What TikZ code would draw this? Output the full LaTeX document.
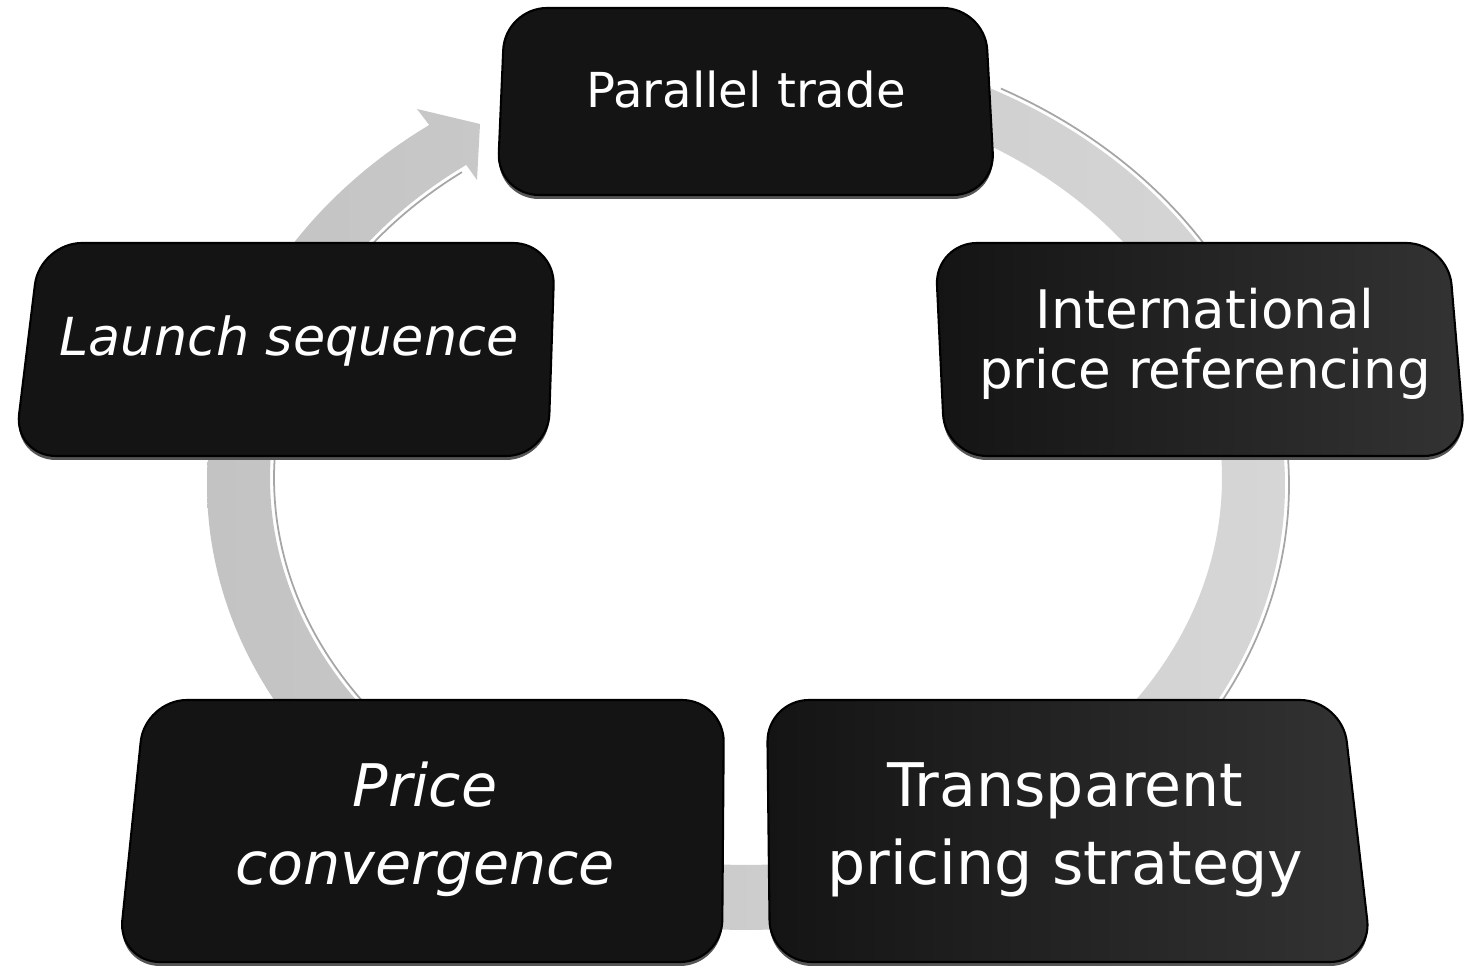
\documentclass[tikz,border=0pt]{standalone}
\usepackage{fontspec}
\setmainfont{DejaVu Sans}
\definecolor{ringL}{HTML}{C3C3C3}
\definecolor{ringR}{HTML}{D6D6D6}
\definecolor{cardfill}{HTML}{141414}
\definecolor{cardlit}{HTML}{333333}
\definecolor{rimgray}{HTML}{555555}
\begin{document}
\begin{tikzpicture}[x=0.01cm,y=-0.01cm,
  ring/.style={left color=ringL, right color=ringR, draw=none},
  bevel/.style={gray!70, line width=0.5pt},
  card/.style={rounded corners=0.42cm, fill=cardfill, draw=black, line width=0.6pt},
  cardlit/.style={rounded corners=0.42cm, left color=cardfill, right color=cardlit, draw=black, line width=0.6pt},
  rim/.style={rounded corners=0.42cm, fill=rimgray, shift={(0,4)}},
  caption/.style={text=white, align=center, inner sep=0pt}
]
\useasboundingbox (0,0) rectangle (1467,968);

% cycle ring with arrow head pointing into the top card
\path[ring]
  plot[domain=80:-234, samples=140, smooth] ({746+539*cos(\x)},{485-445*sin(\x)})
  -- (417,109) -- (480,124) -- (477,180)
  -- plot[domain=-234:80, samples=140, smooth] ({746+476*cos(\x)},{478-387*sin(\x)})
  -- cycle;
% bevel edges of the ring
\draw[bevel] plot[domain=127:262, samples=80, smooth] ({746+472*cos(\x)},{478-383*sin(\x)});
\draw[bevel] plot[domain=62:-62, samples=80, smooth] ({746+543*cos(\x)},{485-449*sin(\x)});

% Parallel trade
\fill[rim] (505,8) -- (985,8) -- (995,195) -- (497,195) -- cycle;
\path[card] (505,8) -- (985,8) -- (995,195) -- (497,195) -- cycle;
% Launch sequence
\fill[rim] (40,243) -- (555,243) -- (548,456) -- (14,456) -- cycle;
\path[card] (40,243) -- (555,243) -- (548,456) -- (14,456) -- cycle;
% International price referencing
\fill[rim] (935,243) -- (1448,243) -- (1466,456) -- (945,456) -- cycle;
\path[cardlit] (935,243) -- (1448,243) -- (1466,456) -- (945,456) -- cycle;
% Price convergence
\fill[rim] (145,700) -- (724,700) -- (722,962) -- (118,962) -- cycle;
\path[card] (145,700) -- (724,700) -- (722,962) -- (118,962) -- cycle;
% Transparent pricing strategy
\fill[rim] (767,700) -- (1342,700) -- (1372,962) -- (770,962) -- cycle;
\path[cardlit] (767,700) -- (1342,700) -- (1372,962) -- (770,962) -- cycle;

\node[caption, font=\fontsize{13.7}{16}\selectfont] (trade) at (746,90) {Parallel trade};
\node[caption, font=\itshape\fontsize{14.9}{17}\selectfont] (launch) at (289,341) {Launch sequence};
\node[caption, font=\fontsize{15.1}{17}\selectfont] (ipr) at (1205,344) {International\\price referencing};
\node[caption, font=\itshape\fontsize{16.7}{22.2}\selectfont] (conv) at (425,829) {Price\\convergence};
\node[caption, font=\fontsize{17.1}{22.2}\selectfont] (transp) at (1065,830) {Transparent\\pricing strategy};
\end{tikzpicture}
\end{document}
